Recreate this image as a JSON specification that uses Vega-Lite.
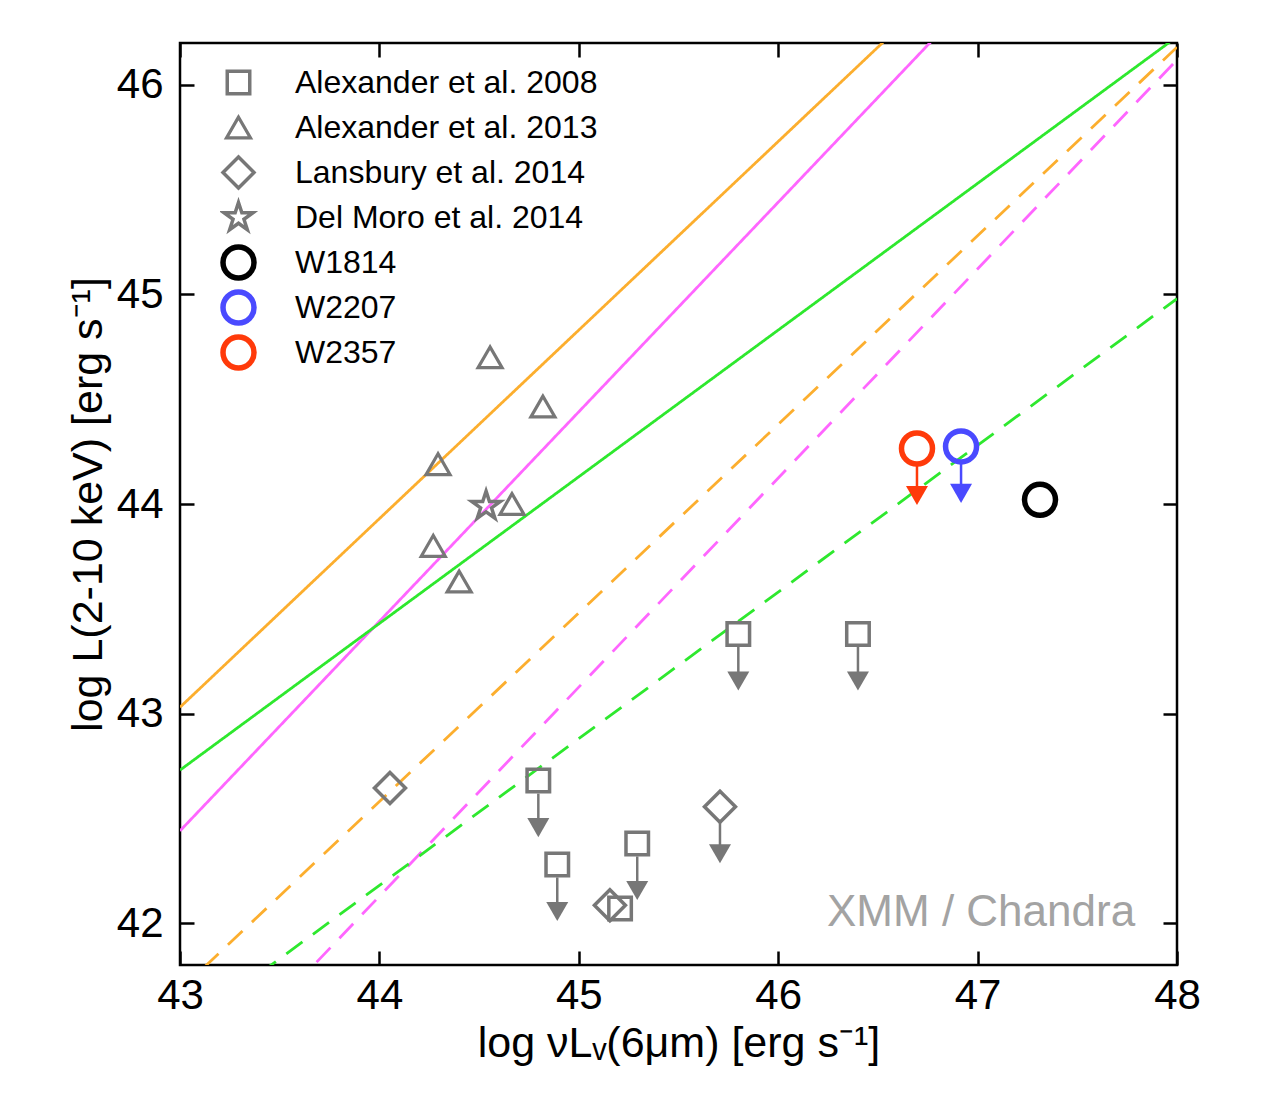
{
  "$schema": "https://vega.github.io/schema/vega-lite/v6.json",
  "width": 997,
  "height": 922,
  "autosize": {"type": "none"},
  "padding": {"left": 180, "top": 43, "right": 102, "bottom": 143},
  "background": "white",
  "config": {
    "font": "Liberation Sans",
    "view": {"stroke": "black", "strokeWidth": 2.5},
    "axis": {
      "domain": false,
      "grid": false,
      "tickColor": "black",
      "tickWidth": 2.5,
      "tickSize": -14,
      "labelFontSize": 42,
      "labelColor": "black",
      "labelFont": "Liberation Sans",
      "labelFlush": false,
      "labelOverlap": false,
      "titleFontSize": 43,
      "titleFontWeight": "normal",
      "titleColor": "black",
      "titleFont": "Liberation Sans"
    },
    "legend": {
      "labelFontSize": 32,
      "labelFont": "Liberation Sans",
      "labelColor": "black",
      "labelLimit": 400
    }
  },
  "datasets": {
    "lines": [
      {"line": "orange solid", "style": "solid", "x": 43, "y": 43.03},
      {"line": "orange solid", "style": "solid", "x": 48, "y": 47.53},
      {"line": "magenta solid", "style": "solid", "x": 43, "y": 42.44},
      {"line": "magenta solid", "style": "solid", "x": 48, "y": 47.44},
      {"line": "green solid", "style": "solid", "x": 43, "y": 42.73},
      {"line": "green solid", "style": "solid", "x": 48, "y": 46.23},
      {"line": "orange dashed", "style": "dashed", "x": 43, "y": 41.68},
      {"line": "orange dashed", "style": "dashed", "x": 48, "y": 46.18},
      {"line": "magenta dashed", "style": "dashed", "x": 43, "y": 41.13},
      {"line": "magenta dashed", "style": "dashed", "x": 48, "y": 46.12},
      {"line": "green dashed", "style": "dashed", "x": 43, "y": 41.48},
      {"line": "green dashed", "style": "dashed", "x": 48, "y": 44.98}
    ],
    "points": [
      {"source": "Alexander et al. 2008", "x": 45.80, "y": 43.38, "limit": true},
      {"source": "Alexander et al. 2008", "x": 46.40, "y": 43.38, "limit": true},
      {"source": "Alexander et al. 2008", "x": 44.797, "y": 42.68, "limit": true},
      {"source": "Alexander et al. 2008", "x": 44.892, "y": 42.28, "limit": true},
      {"source": "Alexander et al. 2008", "x": 45.293, "y": 42.38, "limit": true},
      {"source": "Alexander et al. 2008", "x": 45.207, "y": 42.07, "limit": false},
      {"source": "Alexander et al. 2013", "x": 44.555, "y": 44.70, "limit": false},
      {"source": "Alexander et al. 2013", "x": 44.82, "y": 44.465, "limit": false},
      {"source": "Alexander et al. 2013", "x": 44.294, "y": 44.19, "limit": false},
      {"source": "Alexander et al. 2013", "x": 44.665, "y": 44.0, "limit": false},
      {"source": "Alexander et al. 2013", "x": 44.27, "y": 43.80, "limit": false},
      {"source": "Alexander et al. 2013", "x": 44.40, "y": 43.63, "limit": false},
      {"source": "Lansbury et al. 2014", "x": 44.053, "y": 42.645, "limit": false},
      {"source": "Lansbury et al. 2014", "x": 45.708, "y": 42.555, "limit": true},
      {"source": "Lansbury et al. 2014", "x": 45.156, "y": 42.085, "limit": false},
      {"source": "Del Moro et al. 2014", "x": 44.535, "y": 43.99, "limit": false},
      {"source": "W1814", "x": 47.313, "y": 44.02, "limit": false},
      {"source": "W2207", "x": 46.917, "y": 44.275, "limit": true},
      {"source": "W2357", "x": 46.696, "y": 44.265, "limit": true}
    ],
    "notes": [
      {"label": "XMM / Chandra"}
    ]
  },
  "layer": [
    {
      "data": {"name": "lines"},
      "mark": {"type": "line", "clip": true, "strokeWidth": 2.8},
      "encoding": {
        "x": {
          "field": "x", "type": "quantitative",
          "scale": {"domain": [43, 48], "nice": false, "zero": false},
          "axis": {"orient": "bottom", "values": [43, 44, 45, 46, 47, 48], "labelPadding": 24, "title": "log νLᵥ(6μm) [erg s⁻¹]", "titlePadding": 6}
        },
        "y": {
          "field": "y", "type": "quantitative",
          "scale": {"domain": [41.8, 46.2], "nice": false, "zero": false},
          "axis": {"orient": "left", "values": [42, 43, 44, 45, 46], "labelPadding": 31, "title": "log L(2-10 keV) [erg s⁻¹]", "titlePadding": 6}
        },
        "color": {
          "field": "line", "type": "nominal",
          "scale": {
            "domain": ["orange solid", "magenta solid", "green solid", "orange dashed", "magenta dashed", "green dashed"],
            "range": ["#fcae2e", "#ff66ff", "#2ee82e", "#fcae2e", "#ff66ff", "#2ee82e"]
          },
          "legend": null
        },
        "strokeDash": {
          "field": "style", "type": "nominal",
          "scale": {"domain": ["solid", "dashed"], "range": [[1, 0], [20, 13]]},
          "legend": null
        }
      }
    },
    {
      "data": {"name": "points"},
      "transform": [{"filter": "datum.limit && datum.source != 'W2207' && datum.source != 'W2357'"}],
      "mark": {"type": "rule", "strokeWidth": 2.5, "yOffset": 13, "y2Offset": 40, "stroke": "#777777"},
      "encoding": {
        "x": {"field": "x", "type": "quantitative", "axis": {"orient": "top", "values": [43, 44, 45, 46, 47, 48], "labels": false, "title": null}},
        "y": {"field": "y", "type": "quantitative", "axis": {"orient": "right", "values": [42, 43, 44, 45, 46], "labels": false, "title": null}},
        "y2": {"field": "y"}
      }
    },
    {
      "data": {"name": "points"},
      "transform": [{"filter": "datum.source == 'W2207'"}],
      "mark": {"type": "rule", "strokeWidth": 2.5, "yOffset": 15, "y2Offset": 40, "stroke": "#4a4aff"},
      "encoding": {
        "x": {"field": "x", "type": "quantitative", "axis": null},
        "y": {"field": "y", "type": "quantitative", "axis": null},
        "y2": {"field": "y"}
      }
    },
    {
      "data": {"name": "points"},
      "transform": [{"filter": "datum.source == 'W2357'"}],
      "mark": {"type": "rule", "strokeWidth": 2.5, "yOffset": 15, "y2Offset": 40, "stroke": "#ff3a0a"},
      "encoding": {
        "x": {"field": "x", "type": "quantitative", "axis": null},
        "y": {"field": "y", "type": "quantitative", "axis": null},
        "y2": {"field": "y"}
      }
    },
    {
      "data": {"name": "points"},
      "transform": [{"filter": "datum.limit && datum.source != 'W2207' && datum.source != 'W2357'"}],
      "mark": {"type": "point", "shape": "triangle-down", "filled": true, "size": 484, "yOffset": 47, "strokeWidth": 0, "opacity": 1, "fill": "#777777"},
      "encoding": {
        "x": {"field": "x", "type": "quantitative", "axis": null},
        "y": {"field": "y", "type": "quantitative", "axis": null}
      }
    },
    {
      "data": {"name": "points"},
      "transform": [{"filter": "datum.source == 'W2207'"}],
      "mark": {"type": "point", "shape": "triangle-down", "filled": true, "size": 484, "yOffset": 47, "strokeWidth": 0, "opacity": 1, "fill": "#4a4aff"},
      "encoding": {
        "x": {"field": "x", "type": "quantitative", "axis": null},
        "y": {"field": "y", "type": "quantitative", "axis": null}
      }
    },
    {
      "data": {"name": "points"},
      "transform": [{"filter": "datum.source == 'W2357'"}],
      "mark": {"type": "point", "shape": "triangle-down", "filled": true, "size": 484, "yOffset": 47, "strokeWidth": 0, "opacity": 1, "fill": "#ff3a0a"},
      "encoding": {
        "x": {"field": "x", "type": "quantitative", "axis": null},
        "y": {"field": "y", "type": "quantitative", "axis": null}
      }
    },
    {
      "data": {"name": "points"},
      "mark": {"type": "point", "filled": false, "opacity": 1},
      "encoding": {
        "x": {"field": "x", "type": "quantitative", "axis": null},
        "y": {"field": "y", "type": "quantitative", "axis": null},
        "shape": {
          "field": "source", "type": "nominal",
          "scale": {
            "domain": ["Alexander et al. 2008", "Alexander et al. 2013", "Lansbury et al. 2014", "Del Moro et al. 2014", "W1814", "W2207", "W2357"],
            "range": ["square", "triangle-up", "diamond", "M0,-1L0.2245,-0.309L0.951,-0.309L0.363,0.118L0.588,0.809L0,0.382L-0.588,0.809L-0.363,0.118L-0.951,-0.309L-0.2245,-0.309Z", "circle", "circle", "circle"]
          },
          "legend": {
            "orient": "none", "legendX": 40, "legendY": 17, "title": null,
            "clipHeight": 45, "rowPadding": 0, "padding": 0, "labelOffset": 38
          }
        },
        "stroke": {
          "field": "source", "type": "nominal",
          "scale": {
            "domain": ["Alexander et al. 2008", "Alexander et al. 2013", "Lansbury et al. 2014", "Del Moro et al. 2014", "W1814", "W2207", "W2357"],
            "range": ["#777777", "#777777", "#777777", "#777777", "#000000", "#4a4aff", "#ff3a0a"]
          }
        },
        "size": {
          "field": "source", "type": "nominal",
          "scale": {
            "type": "ordinal",
            "domain": ["Alexander et al. 2008", "Alexander et al. 2013", "Lansbury et al. 2014", "Del Moro et al. 2014", "W1814", "W2207", "W2357"],
            "range": [506, 576, 961, 900, 961, 961, 961]
          }
        },
        "strokeWidth": {
          "field": "source", "type": "nominal",
          "scale": {
            "type": "ordinal",
            "domain": ["Alexander et al. 2008", "Alexander et al. 2013", "Lansbury et al. 2014", "Del Moro et al. 2014", "W1814", "W2207", "W2357"],
            "range": [3.5, 3.2, 3.5, 3.5, 5.5, 5.5, 5.5]
          }
        }
      }
    },
    {
      "data": {"name": "notes"},
      "mark": {"type": "text", "align": "right", "baseline": "alphabetic", "fontSize": 44, "fill": "#a3a3a3", "font": "Liberation Sans"},
      "encoding": {
        "x": {"datum": 47.79, "type": "quantitative", "axis": null},
        "y": {"datum": 41.985, "type": "quantitative", "axis": null},
        "text": {"field": "label", "type": "nominal"}
      }
    }
  ],
  "resolve": {"axis": {"x": "independent", "y": "independent"}}
}
